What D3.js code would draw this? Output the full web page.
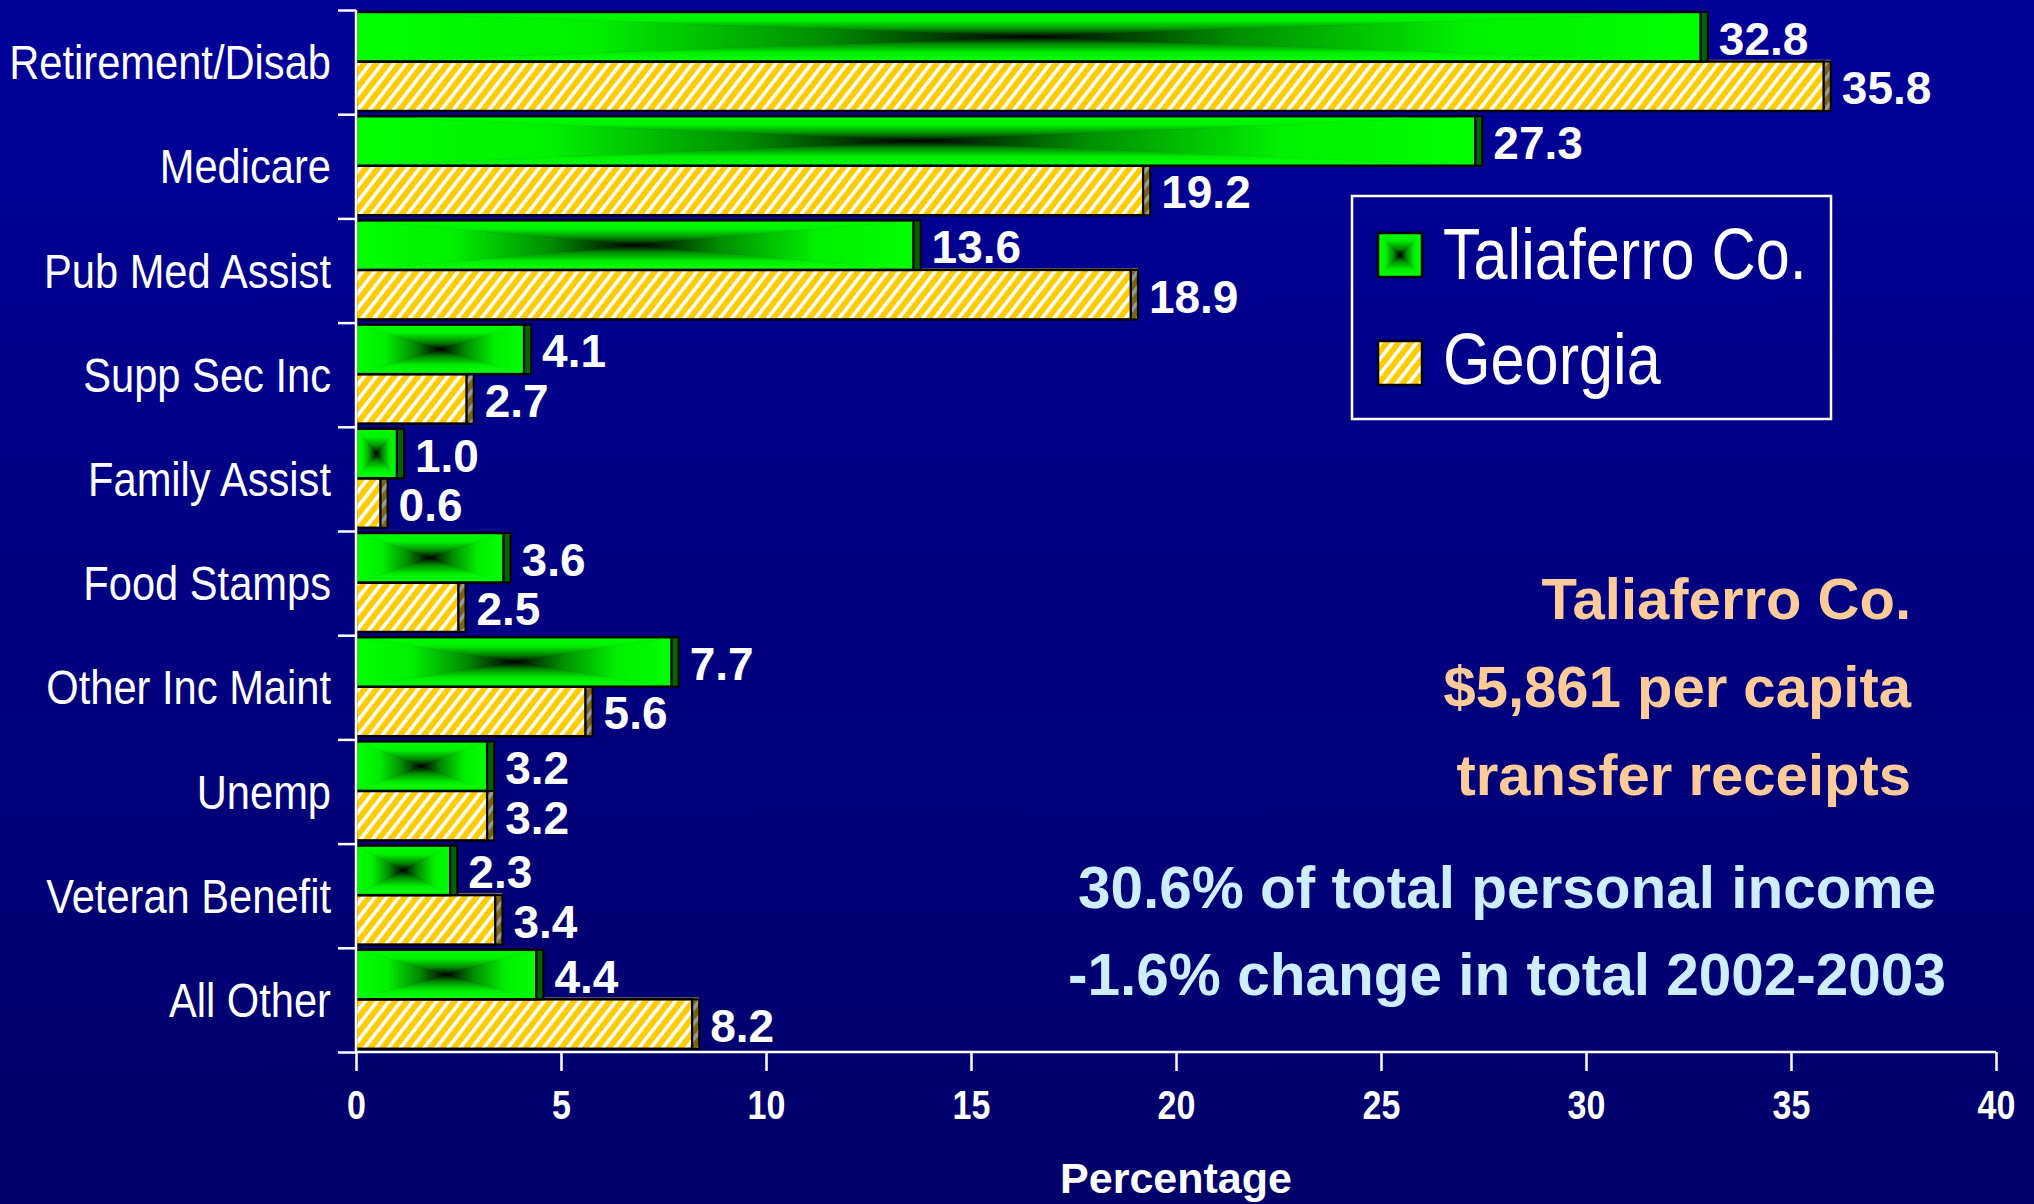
<!DOCTYPE html>
<html>
<head>
<meta charset="utf-8">
<script src="https://cdn.jsdelivr.net/npm/d3@7"></script>
<style>
  html, body { margin: 0; padding: 0; background: #000080; }
  svg { display: block; }
</style>
</head>
<body>
<svg id="chart" width="2034" height="1204"></svg>
<script>
// chart values
const categories = ['Retirement/Disab', 'Medicare', 'Pub Med Assist', 'Supp Sec Inc', 'Family Assist',
                    'Food Stamps', 'Other Inc Maint', 'Unemp', 'Veteran Benefit', 'All Other'];
const taliaferro = [32.8, 27.3, 13.6, 4.1, 1.0, 3.6, 7.7, 3.2, 2.3, 4.4];
const georgia    = [35.8, 19.2, 18.9, 2.7, 0.6, 2.5, 5.6, 3.2, 3.4, 8.2];
const seriesNames = ['Taliaferro Co.', 'Georgia'];
const xTicks = [0, 5, 10, 15, 20, 25, 30, 35, 40];
const xTitle = 'Percentage';
const noteLines = ['Taliaferro Co.', '$5,861 per capita', 'transfer receipts'];
const statLines = ['30.6% of total personal income', '-1.6% change in total 2002-2003'];

const W = 2034, H = 1204;
const plotL = 356, plotR = 1996, plotT = 10, plotB = 1052;
const sans = '"Liberation Sans", Arial, sans-serif';
const squeeze = 0.85; // no narrow face installed, so condense by hand

const svg = d3.select('#chart');
const defs = svg.append('defs');

// background: slide blue, a bit darker at the bottom
const bg = defs.append('linearGradient').attr('id', 'bg')
  .attr('x1', 0).attr('y1', 0).attr('x2', 0).attr('y2', 1);
bg.append('stop').attr('offset', 0).attr('stop-color', '#000099');
bg.append('stop').attr('offset', 1).attr('stop-color', '#00006a');
svg.append('rect').attr('width', W).attr('height', H).attr('fill', 'url(#bg)');

// "from center" green fill, built from four triangles
const ramp = [[0, '#00ff00'], [0.35, '#00f000'], [0.7, '#008c00'], [1, '#000000']];
const dirs = { gT: [0, 0, 0, 1], gB: [0, 1, 0, 0], gL: [0, 0, 1, 0], gR: [1, 0, 0, 0] };
Object.entries(dirs).forEach(([id, [x1, y1, x2, y2]]) => {
  const g = defs.append('linearGradient').attr('id', id)
    .attr('x1', x1).attr('y1', y1).attr('x2', x2).attr('y2', y2);
  ramp.forEach(([o, c]) => g.append('stop').attr('offset', o).attr('stop-color', c));
});

// yellow with white upward diagonal stripes
function stripes(id, base, line) {
  const p = defs.append('pattern').attr('id', id)
    .attr('patternUnits', 'userSpaceOnUse')
    .attr('width', 9.4).attr('height', 20)
    .attr('patternTransform', 'rotate(38)');
  p.append('rect').attr('width', 9.4).attr('height', 20).attr('fill', base);
  p.append('rect').attr('x', 0).attr('width', 3.6).attr('height', 20).attr('fill', line);
}
stripes('hatch', '#ffcc00', '#ffffff');
stripes('hatchSide', '#7a6418', '#9a9a9a');

const x = d3.scaleLinear().domain([0, 40]).range([plotL, plotR]);
const y = d3.scaleBand().domain(categories).range([plotT, plotB]);
const yIdx = d3.scaleLinear().domain([0, categories.length]).range([plotT, plotB]);
const inner = d3.scaleBand().domain([0, 1]).range([2, 101]);
const fmt = d3.format('.1f');

function pyramid(g, x0, y0, w, h) {
  const cx = x0 + w / 2, cy = y0 + h / 2;
  const tris = [
    ['gT', [[x0, y0], [x0 + w, y0], [cx, cy]]],
    ['gB', [[x0, y0 + h], [x0 + w, y0 + h], [cx, cy]]],
    ['gL', [[x0, y0], [x0, y0 + h], [cx, cy]]],
    ['gR', [[x0 + w, y0], [x0 + w, y0 + h], [cx, cy]]]
  ];
  tris.forEach(([id, pts]) => {
    g.append('polygon')
      .attr('points', pts.map(p => p.join(',')).join(' '))
      .attr('fill', `url(#${id})`)
      .attr('stroke', `url(#${id})`)
      .attr('stroke-width', 0.6);
  });
  g.append('rect').attr('x', x0).attr('y', y0).attr('width', w).attr('height', h)
    .attr('fill', 'none').attr('stroke', '#000').attr('stroke-width', 2.5);
}

const rows = categories.map((c, i) => ({ c, t: taliaferro[i], g: georgia[i] }));
const plot = svg.append('g');

rows.forEach(d => {
  const row = plot.append('g');
  const yG = y(d.c) + inner(0), yY = y(d.c) + inner(1), bh = inner.bandwidth();

  // Georgia bar (hatched) with its top face and side
  row.append('line')
    .attr('x1', x(0)).attr('x2', x(d.g) + 7).attr('y1', yY - 1).attr('y2', yY - 1)
    .attr('stroke', '#c09a50').attr('stroke-width', 1.5);
  row.append('rect').attr('x', x(0)).attr('y', yY).attr('width', x(d.g) - x(0)).attr('height', bh)
    .attr('fill', 'url(#hatch)').attr('stroke', '#000').attr('stroke-width', 2.5);
  row.append('rect').attr('x', x(d.g)).attr('y', yY).attr('width', 7).attr('height', bh)
    .attr('fill', 'url(#hatchSide)').attr('stroke', '#000').attr('stroke-width', 2);

  // Taliaferro bar (green, from-center shading) with dark side
  pyramid(row, x(0), yG, x(d.t) - x(0), bh);
  row.append('rect').attr('x', x(d.t)).attr('y', yG).attr('width', 7).attr('height', bh)
    .attr('fill', '#006400').attr('stroke', '#000').attr('stroke-width', 2);

  // value labels
  [[d.t, yG], [d.g, yY]].forEach(([v, yy]) => {
    row.append('text')
      .attr('x', x(v) + 18).attr('y', yy + bh / 2 + 18)
      .attr('fill', '#fff').attr('font-family', sans).attr('font-weight', 'bold')
      .attr('font-size', 46).text(fmt(v));
  });
});

// axes
const yAxis = svg.append('g').attr('transform', `translate(${plotL},0)`)
  .call(d3.axisLeft(yIdx).tickValues(d3.range(categories.length + 1)).tickSize(18).tickFormat(''));
const xAxis = svg.append('g').attr('transform', `translate(0,${plotB})`)
  .call(d3.axisBottom(x).tickValues(xTicks).tickSize(19).tickSizeOuter(0));
[yAxis, xAxis].forEach(a => {
  a.select('.domain').attr('stroke', '#fff').attr('stroke-width', 2.5);
  a.selectAll('.tick line').attr('stroke', '#fff').attr('stroke-width', 2.5);
});
yAxis.select('.domain').attr('d', `M0,${plotT}V${plotB}`);
xAxis.select('.domain').attr('d', `M${plotL},0H${plotR}`);
xAxis.selectAll('.tick text')
  .attr('y', null).attr('dy', null)
  .attr('transform', `translate(0,67) scale(${squeeze},1)`)
  .attr('fill', '#fff').attr('font-family', sans).attr('font-weight', 'bold').attr('font-size', 40);

svg.append('text').attr('x', (plotL + plotR) / 2).attr('y', 1193)
  .attr('text-anchor', 'middle').attr('fill', '#fff')
  .attr('font-family', sans).attr('font-weight', 'bold').attr('font-size', 43)
  .text(xTitle);

// category labels
svg.append('g').selectAll('text').data(categories).join('text')
  .attr('transform', d => `translate(331,${y(d) + y.bandwidth() / 2 + 17}) scale(${squeeze},1)`)
  .attr('text-anchor', 'end').attr('fill', '#fff')
  .attr('font-family', sans).attr('font-size', 49)
  .text(d => d);

// legend
const legend = svg.append('g');
legend.append('rect').attr('x', 1352).attr('y', 196).attr('width', 479).attr('height', 223)
  .attr('fill', 'none').attr('stroke', '#fff').attr('stroke-width', 2.5);
pyramid(legend, 1378, 233, 44, 44);
legend.append('rect').attr('x', 1378).attr('y', 341).attr('width', 44).attr('height', 44)
  .attr('fill', 'url(#hatch)').attr('stroke', '#000').attr('stroke-width', 2.5);
legend.selectAll('text').data(seriesNames).join('text')
  .attr('transform', (d, i) => `translate(1443,${[279, 384][i]}) scale(${squeeze},1)`)
  .attr('fill', '#fff').attr('font-family', sans).attr('font-size', 72)
  .text(d => d);

// notes on the right
svg.append('g').selectAll('text').data(noteLines).join('text')
  .attr('x', 1911).attr('y', (d, i) => 619 + i * 88)
  .attr('text-anchor', 'end').attr('fill', '#ffcc99')
  .attr('font-family', sans).attr('font-weight', 'bold').attr('font-size', 58)
  .text(d => d);
svg.append('g').selectAll('text').data(statLines).join('text')
  .attr('x', 1507).attr('y', (d, i) => 908 + i * 87)
  .attr('text-anchor', 'middle').attr('fill', '#cceeff')
  .attr('font-family', sans).attr('font-weight', 'bold').attr('font-size', 58.5)
  .text(d => d);
</script>
</body>
</html>
